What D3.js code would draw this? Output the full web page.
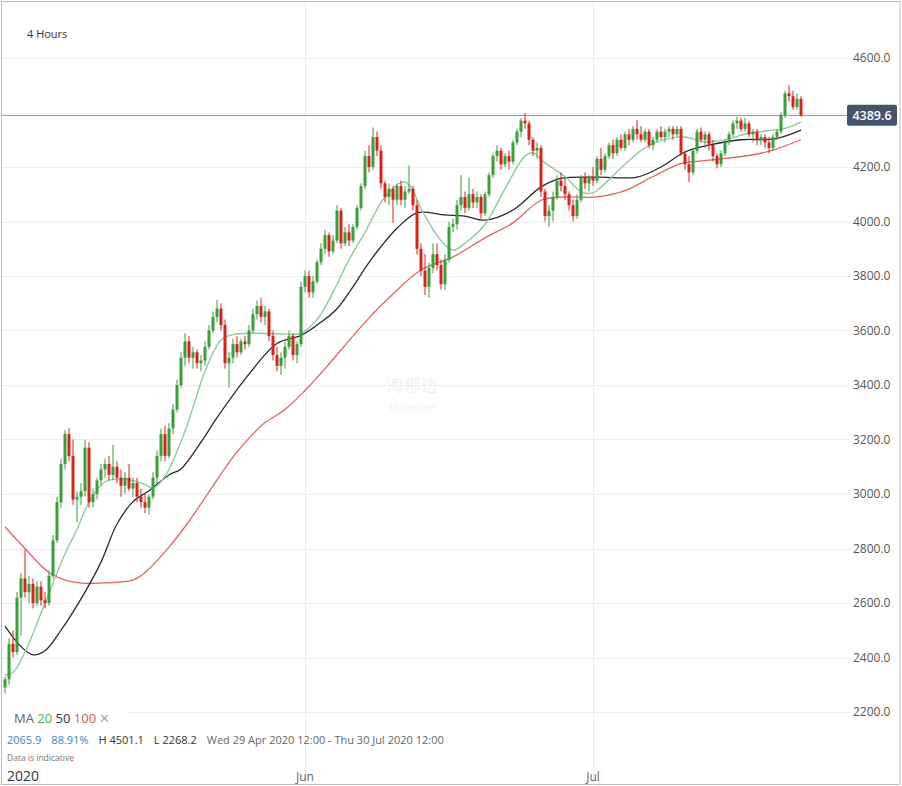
<!DOCTYPE html>
<html>
<head>
<meta charset="UTF-8">
<title>4 Hours</title>
<script src="https://d3js.org/d3.v7.min.js"></script>
<style>
  body { margin: 0; background: #fff; }
  text { font-family: "Open Sans", "Noto Sans", sans-serif; }
</style>
</head>
<body>
<script>
// candles [open, high, low, close], 4h bars from 29 Apr to end of July
const candles = [
  [2290,2330,2268,2320],[2320,2470,2300,2450],[2450,2500,2400,2420],[2420,2640,2410,2620],[2620,2710,2480,2690],
  [2690,2795,2620,2640],[2640,2700,2600,2670],[2670,2690,2580,2600],[2600,2680,2590,2660],[2660,2680,2590,2610],
  [2610,2640,2580,2600],[2600,2720,2590,2700],[2700,2850,2690,2830],[2830,2990,2820,2970],[2970,3130,2950,3110],
  [3110,3235,3090,3220],[3220,3242,3120,3140],[3140,3200,2960,2980],[2980,3010,2895,2990],[2990,3040,2960,3010],
  [3010,3200,2990,3170],[3170,3190,2950,2970],[2970,3020,2950,3000],[3000,3060,2980,3050],[3050,3110,3030,3090],
  [3090,3130,3060,3110],[3110,3140,3050,3070],[3070,3180,3050,3100],[3100,3120,3040,3060],[3060,3090,2990,3030],
  [3030,3080,3000,3060],[3060,3110,3010,3020],[3020,3060,2990,3040],[3040,3060,2970,2990],[2990,3020,2950,2970],
  [2970,3000,2930,2950],[2950,3000,2925,2990],[2990,3080,2980,3060],[3060,3160,3040,3140],[3140,3240,3120,3220],
  [3220,3250,3120,3140],[3140,3260,3130,3240],[3240,3330,3220,3310],[3310,3420,3300,3400],[3400,3520,3390,3500],
  [3500,3590,3470,3560],[3560,3580,3480,3500],[3500,3540,3460,3520],[3520,3530,3460,3480],[3480,3510,3450,3490],
  [3490,3560,3470,3540],[3540,3620,3530,3600],[3600,3670,3590,3650],[3650,3712,3630,3680],[3680,3700,3600,3620],
  [3620,3640,3460,3480],[3480,3520,3390,3500],[3500,3570,3480,3550],[3550,3580,3500,3520],[3520,3570,3510,3560],
  [3560,3580,3530,3550],[3550,3620,3540,3600],[3600,3680,3590,3660],[3660,3710,3640,3690],[3690,3720,3630,3650],
  [3650,3690,3620,3670],[3670,3680,3560,3580],[3580,3600,3490,3510],[3510,3540,3450,3470],[3470,3520,3437,3500],
  [3500,3560,3460,3540],[3540,3600,3530,3580],[3580,3590,3490,3510],[3510,3560,3480,3550],[3550,3780,3540,3760],
  [3760,3820,3740,3800],[3800,3820,3720,3740],[3740,3800,3720,3780],[3780,3860,3770,3850],[3850,3920,3840,3900],
  [3900,3970,3880,3950],[3950,3960,3870,3890],[3890,3950,3880,3930],[3930,4060,3920,4040],[4040,4050,3900,3920],
  [3920,3980,3910,3960],[3960,3990,3910,3930],[3930,3990,3920,3980],[3980,4060,3970,4050],[4050,4140,4040,4130],
  [4130,4260,4120,4240],[4240,4280,4180,4200],[4200,4345,4190,4310],[4310,4330,4240,4260],[4260,4280,4120,4140],
  [4140,4150,4070,4090],[4090,4140,4060,4120],[4120,4130,3995,4080],[4080,4140,4060,4130],[4130,4150,4060,4080],
  [4080,4130,4050,4110],[4110,4205,4100,4120],[4120,4130,4040,4060],[4060,4080,3880,3900],[3900,3920,3800,3820],
  [3820,3880,3730,3760],[3760,3850,3720,3830],[3830,3920,3810,3880],[3880,3920,3820,3840],[3840,3860,3750,3770],
  [3770,3880,3750,3860],[3860,4000,3850,3980],[3980,4010,3960,3990],[3990,4080,3970,4060],[4060,4170,4040,4090],
  [4090,4110,4030,4050],[4050,4160,4040,4100],[4100,4120,4050,4070],[4070,4110,4050,4090],[4090,4100,4010,4030],
  [4030,4110,4020,4100],[4100,4180,4090,4170],[4170,4250,4160,4240],[4240,4280,4220,4260],[4260,4270,4190,4210],
  [4210,4250,4200,4240],[4240,4260,4190,4220],[4220,4300,4210,4290],[4290,4340,4280,4330],[4330,4380,4310,4370],
  [4370,4398,4340,4360],[4360,4370,4280,4300],[4300,4310,4240,4260],[4260,4290,4230,4270],[4270,4280,4090,4110],
  [4110,4120,4000,4020],[4020,4060,3980,4040],[4040,4110,4000,4090],[4090,4170,4080,4150],[4150,4180,4110,4130],
  [4130,4160,4080,4100],[4100,4110,4040,4060],[4060,4080,4000,4020],[4020,4100,4010,4080],[4080,4170,4070,4160],
  [4160,4180,4120,4140],[4140,4170,4110,4160],[4160,4200,4130,4150],[4150,4240,4140,4230],[4230,4270,4170,4190],
  [4190,4250,4180,4240],[4240,4290,4230,4280],[4280,4300,4230,4250],[4250,4310,4240,4300],[4300,4320,4260,4270],
  [4270,4330,4260,4320],[4320,4340,4280,4300],[4300,4350,4290,4340],[4340,4372,4300,4320],[4320,4350,4290,4300],
  [4300,4340,4290,4330],[4330,4340,4270,4280],[4280,4310,4262,4300],[4300,4340,4290,4330],[4330,4350,4300,4310],
  [4310,4340,4290,4330],[4330,4350,4310,4340],[4340,4350,4300,4320],[4320,4350,4310,4340],[4340,4350,4240,4250],
  [4250,4260,4190,4210],[4210,4240,4145,4180],[4180,4270,4170,4260],[4260,4340,4250,4330],[4330,4345,4290,4300],
  [4300,4330,4270,4320],[4320,4330,4260,4280],[4280,4300,4220,4240],[4240,4250,4195,4210],[4210,4260,4200,4250],
  [4250,4300,4240,4290],[4290,4330,4280,4320],[4320,4370,4310,4360],[4360,4385,4340,4370],[4370,4380,4330,4340],
  [4340,4380,4330,4360],[4360,4370,4310,4320],[4320,4340,4290,4330],[4330,4340,4280,4300],[4300,4320,4280,4310],
  [4310,4320,4270,4290],[4290,4310,4250,4270],[4270,4320,4260,4310],[4310,4340,4300,4330],[4330,4400,4320,4390],
  [4390,4480,4380,4470],[4470,4501,4440,4460],[4460,4480,4410,4420],[4420,4470,4410,4450],[4450,4460,4385,4389.6]
];

// moving averages, [candle index, value]
const ma20 = [[0,2335],[2,2345],[5,2420],[10,2600],[15,2780],[18,2870],[21,2970],[25,3045],[30,3055],[35,3035],
  [37,3022],[40,3065],[45,3230],[50,3450],[54,3565],[57,3585],[62,3590],[68,3588],[74,3590],[78,3640],[82,3740],
  [86,3860],[90,3960],[95,4090],[100,4145],[105,4020],[109,3930],[112,3895],[115,3920],[120,3990],[125,4120],
  [130,4240],[132,4252],[135,4215],[140,4165],[144,4110],[147,4105],[150,4140],[155,4210],[160,4270],[166,4305],
  [170,4310],[175,4292],[180,4300],[185,4320],[190,4332],[195,4342],[199,4365]];
const ma50 = [[0,2515],[4,2440],[7,2410],[10,2425],[14,2500],[20,2640],[24,2750],[28,2890],[32,2972],[36,3012],
  [41,3070],[44,3092],[49,3190],[53,3280],[61,3440],[68,3552],[74,3582],[78,3620],[83,3680],[92,3870],[98,3975],
  [103,4032],[110,4024],[115,4020],[120,4005],[127,4042],[134,4127],[139,4158],[148,4163],[158,4163],[164,4200],
  [170,4255],[176,4280],[184,4300],[192,4302],[196,4318],[199,4335]];
const ma100 = [[0,2880],[5,2800],[11,2712],[16,2680],[20,2672],[25,2674],[32,2684],[35,2712],[41,2805],[46,2900],
  [52,3030],[57,3135],[61,3205],[65,3262],[70,3310],[75,3380],[80,3460],[90,3630],[96,3720],[104,3822],[112,3870],
  [120,3940],[127,3995],[134,4078],[140,4090],[148,4090],[155,4113],[162,4165],[169,4212],[176,4225],[187,4245],
  [192,4262],[199,4300]];

const yTicks = [2200, 2400, 2600, 2800, 3000, 3200, 3400, 3600, 3800, 4000, 4200, 4400, 4600];
const monthLabels = ["Jun", "Jul"];
const monthIdx = [75, 147];
const lastPrice = 4389.6;

const W = 902, H = 786;
const svg = d3.select("body").append("svg").attr("width", W).attr("height", H);

const x = d3.scaleLinear().domain([0, candles.length - 1]).range([5, 801]);
const y = d3.scaleLinear().domain([2200, 4600]).range([712, 58]);

// frame
svg.append("rect").attr("x", 1.5).attr("y", 1.5).attr("width", 898.5).attr("height", 783)
  .attr("fill", "#fff").attr("stroke", "#bdbdbd");

// horizontal grid
svg.append("g").selectAll("line").data(yTicks).join("line")
  .attr("x1", 2).attr("x2", 850)
  .attr("y1", d => Math.round(y(d)) + 0.5).attr("y2", d => Math.round(y(d)) + 0.5)
  .attr("stroke", "#ececec");

// month grid
svg.append("g").selectAll("line").data(monthIdx).join("line")
  .attr("x1", d => Math.round(x(d)) + 0.5).attr("x2", d => Math.round(x(d)) + 0.5)
  .attr("y1", 2).attr("y2", 785)
  .attr("stroke", "#ececec");

// watermark
svg.append("text").attr("x", 412).attr("y", 391).attr("text-anchor", "middle")
  .style("font-size", "17px").attr("fill", "#edf1f6").text("海那边");
svg.append("text").attr("x", 412).attr("y", 411).attr("text-anchor", "middle")
  .style("font-size", "11px").attr("fill", "#edf1f6").text("Hinabian");

// last price line
svg.append("line").attr("x1", 2).attr("x2", 847)
  .attr("y1", Math.round(y(lastPrice)) + 0.5).attr("y2", Math.round(y(lastPrice)) + 0.5)
  .attr("stroke", "#9a9a9a");

// moving averages
const line = d3.line().x(d => x(d[0])).y(d => y(d[1])).curve(d3.curveCatmullRom);
svg.append("path").attr("d", line(ma100)).attr("fill", "none").attr("stroke", "#e26464").attr("stroke-width", 1.3);
svg.append("path").attr("d", line(ma50)).attr("fill", "none").attr("stroke", "#2a2a2a").attr("stroke-width", 1.3);
svg.append("path").attr("d", line(ma20)).attr("fill", "none").attr("stroke", "#8fca9b").attr("stroke-width", 1.4);

// candles
const up = "#3a9e3a", down = "#d8231c";
const cg = svg.append("g").selectAll("g").data(candles).join("g");
cg.append("line")
  .attr("x1", (d, i) => x(i)).attr("x2", (d, i) => x(i))
  .attr("y1", d => y(d[1])).attr("y2", d => y(d[2]))
  .attr("stroke", d => d[3] >= d[0] ? up : down).attr("stroke-width", 1);
cg.append("rect")
  .attr("x", (d, i) => x(i) - 1.5).attr("width", 3)
  .attr("y", d => y(Math.max(d[0], d[3])))
  .attr("height", d => Math.max(1, Math.abs(y(d[0]) - y(d[3]))))
  .attr("fill", d => d[3] >= d[0] ? up : down);

// right axis labels (the one under the price tag is hidden)
const shownTicks = yTicks.filter(v => Math.abs(y(v) - y(lastPrice)) > 14);
const yAxis = d3.axisRight(y).tickValues(shownTicks).tickFormat(d3.format(".1f")).tickSize(0).tickPadding(0);
const ax = svg.append("g").attr("transform", "translate(853,0)").call(yAxis);
ax.select(".domain").remove();
ax.selectAll("text").style("font-size", "12px").attr("fill", "#555")
  .style("font-family", "'Open Sans', sans-serif");

// last price tag
const ly = y(lastPrice);
svg.append("rect").attr("x", 847).attr("y", ly - 10.5).attr("width", 50).attr("height", 21)
  .attr("rx", 2).attr("fill", "#44546e");
svg.append("text").attr("x", 872).attr("y", ly + 4.5).attr("text-anchor", "middle")
  .style("font-size", "12.5px").style("font-weight", "600").attr("fill", "#fff").text(lastPrice.toFixed(1));

// title
svg.append("text").attr("x", 27).attr("y", 38).style("font-size", "11px").attr("fill", "#333").text("4 Hours");

// legend
svg.append("rect").attr("x", 2).attr("y", 703).attr("width", 126).attr("height", 24).attr("fill", "#fff");
const lg = svg.append("text").attr("x", 14).attr("y", 723).style("font-size", "13px");
lg.append("tspan").attr("fill", "#666").text("MA ");
lg.append("tspan").attr("fill", "#4caf50").text("20 ");
lg.append("tspan").attr("fill", "#333").text("50 ");
lg.append("tspan").attr("fill", "#e05555").text("100 ");
lg.append("tspan").attr("fill", "#aaa").text("✕");

const info = svg.append("text").attr("x", 7).attr("y", 744).style("font-size", "11px");
info.append("tspan").attr("fill", "#3b7fc4").text("2065.9");
info.append("tspan").attr("dx", 10).attr("fill", "#3b7fc4").text("88.91%");
info.append("tspan").attr("dx", 10).attr("fill", "#333").text("H 4501.1");
info.append("tspan").attr("dx", 10).attr("fill", "#333").text("L 2268.2");
info.append("tspan").attr("dx", 10).attr("fill", "#666").text("Wed 29 Apr 2020 12:00 - Thu 30 Jul 2020 12:00");

svg.append("text").attr("x", 7).attr("y", 761).style("font-size", "8.5px").attr("fill", "#777").text("Data is indicative");

// bottom axis
svg.append("text").attr("x", 7).attr("y", 781).style("font-size", "14px").attr("fill", "#333").text("2020");
svg.append("g").selectAll("text").data(monthIdx).join("text")
  .attr("x", d => x(d)).attr("y", 781).attr("text-anchor", "middle")
  .style("font-size", "12px").attr("fill", "#666")
  .text((d, i) => monthLabels[i]);
</script>
</body>
</html>
